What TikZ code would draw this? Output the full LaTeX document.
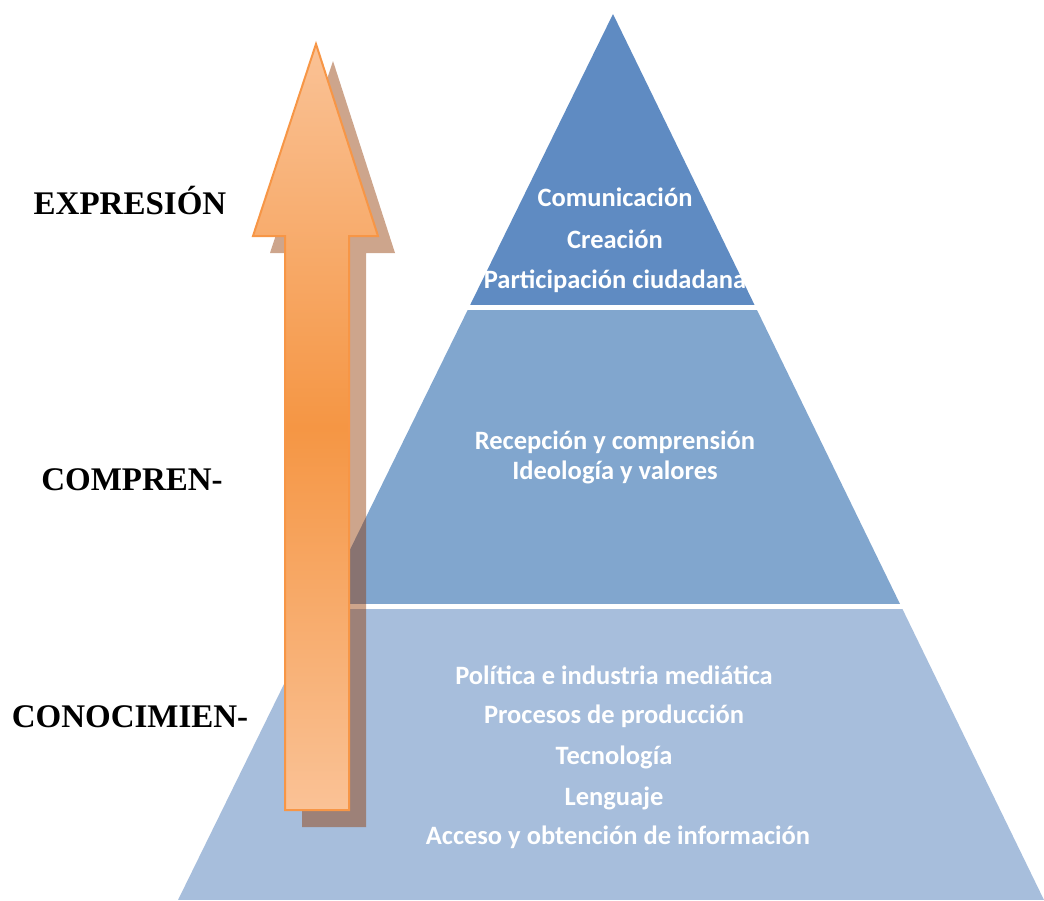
\documentclass[tikz,border=0pt]{standalone}
\usepackage{fontspec}
\setmainfont{Liberation Serif}
\newfontfamily\tierfont{Carlito}
\definecolor{tierTop}{RGB}{95,139,194}
\definecolor{tierMid}{RGB}{129,166,206}
\definecolor{tierBot}{RGB}{167,190,220}
\definecolor{arrowEdge}{RGB}{247,150,70}
\definecolor{arrowLight}{RGB}{250,194,150}
\definecolor{arrowMid}{RGB}{245,150,68}
\definecolor{shadowBrown}{RGB}{145,55,0}
\tikzset{
  levellabel/.style={font=\bfseries\fontsize{33}{36}\selectfont, text=black, anchor=center},
  tiertext/.style={font=\tierfont\bfseries\fontsize{26.5}{30}\selectfont, text=white, align=center, anchor=center},
}
\begin{document}
\begin{tikzpicture}[x=1pt,y=-1pt]
\useasboundingbox (0,0) rectangle (1044,900);
\clip (0,0) rectangle (1044,900);

% pyramid split into three tiers with white gaps
\coordinate (apex) at (613,14);
\coordinate (baseL) at (178,900);
\coordinate (baseR) at (1044,900);
\begin{scope}
  \clip (apex) -- (baseR) -- (baseL) -- cycle;
  \fill[tierTop] (0,0) rectangle (1044,305);
  \fill[tierMid] (0,310) rectangle (1044,604);
  \fill[tierBot] (0,609) rectangle (1044,900);
\end{scope}

% arrow shadow
\fill[shadowBrown, fill opacity=0.45]
  (333,61) -- (395,253) -- (366,253) -- (366,827) -- (302,827) -- (302,253) -- (270,253) -- cycle;

% upward arrow: light at both ends, deeper orange in the middle
\shade[top color=arrowLight, bottom color=arrowLight, middle color=arrowMid]
  (316,44) -- (378,236) -- (349,236) -- (349,810) -- (285,810) -- (285,236) -- (253,236) -- cycle;
\draw[arrowEdge, line width=2pt, line join=miter]
  (316,44) -- (378,236) -- (349,236) -- (349,810) -- (285,810) -- (285,236) -- (253,236) -- cycle;

% level labels
\node[levellabel] (expr) at (130,201) {EXPRESIÓN};
\node[levellabel] (compr) at (132,480) {COMPREN-};
\node[levellabel] (conoc) at (130,717) {CONOCIMIEN-};

% tier contents
\node[tiertext] (t1a) at (615,197) {Comunicación};
\node[tiertext] (t1b) at (615,239) {Creación};
\node[tiertext] (t1c) at (615,281) {Participación ciudadana};

\node[tiertext] (t2a) at (615,442) {Recepción y comprensión};
\node[tiertext] (t2b) at (615,472) {Ideología y valores};

\node[tiertext] (t3a) at (614,675) {Política e industria mediática};
\node[tiertext] (t3b) at (614,716) {Procesos de producción};
\node[tiertext] (t3c) at (614,757) {Tecnología};
\node[tiertext] (t3d) at (614,798) {Lenguaje};
\node[tiertext] (t3e) at (618,837) {Acceso y obtención de información};
\end{tikzpicture}
\end{document}
